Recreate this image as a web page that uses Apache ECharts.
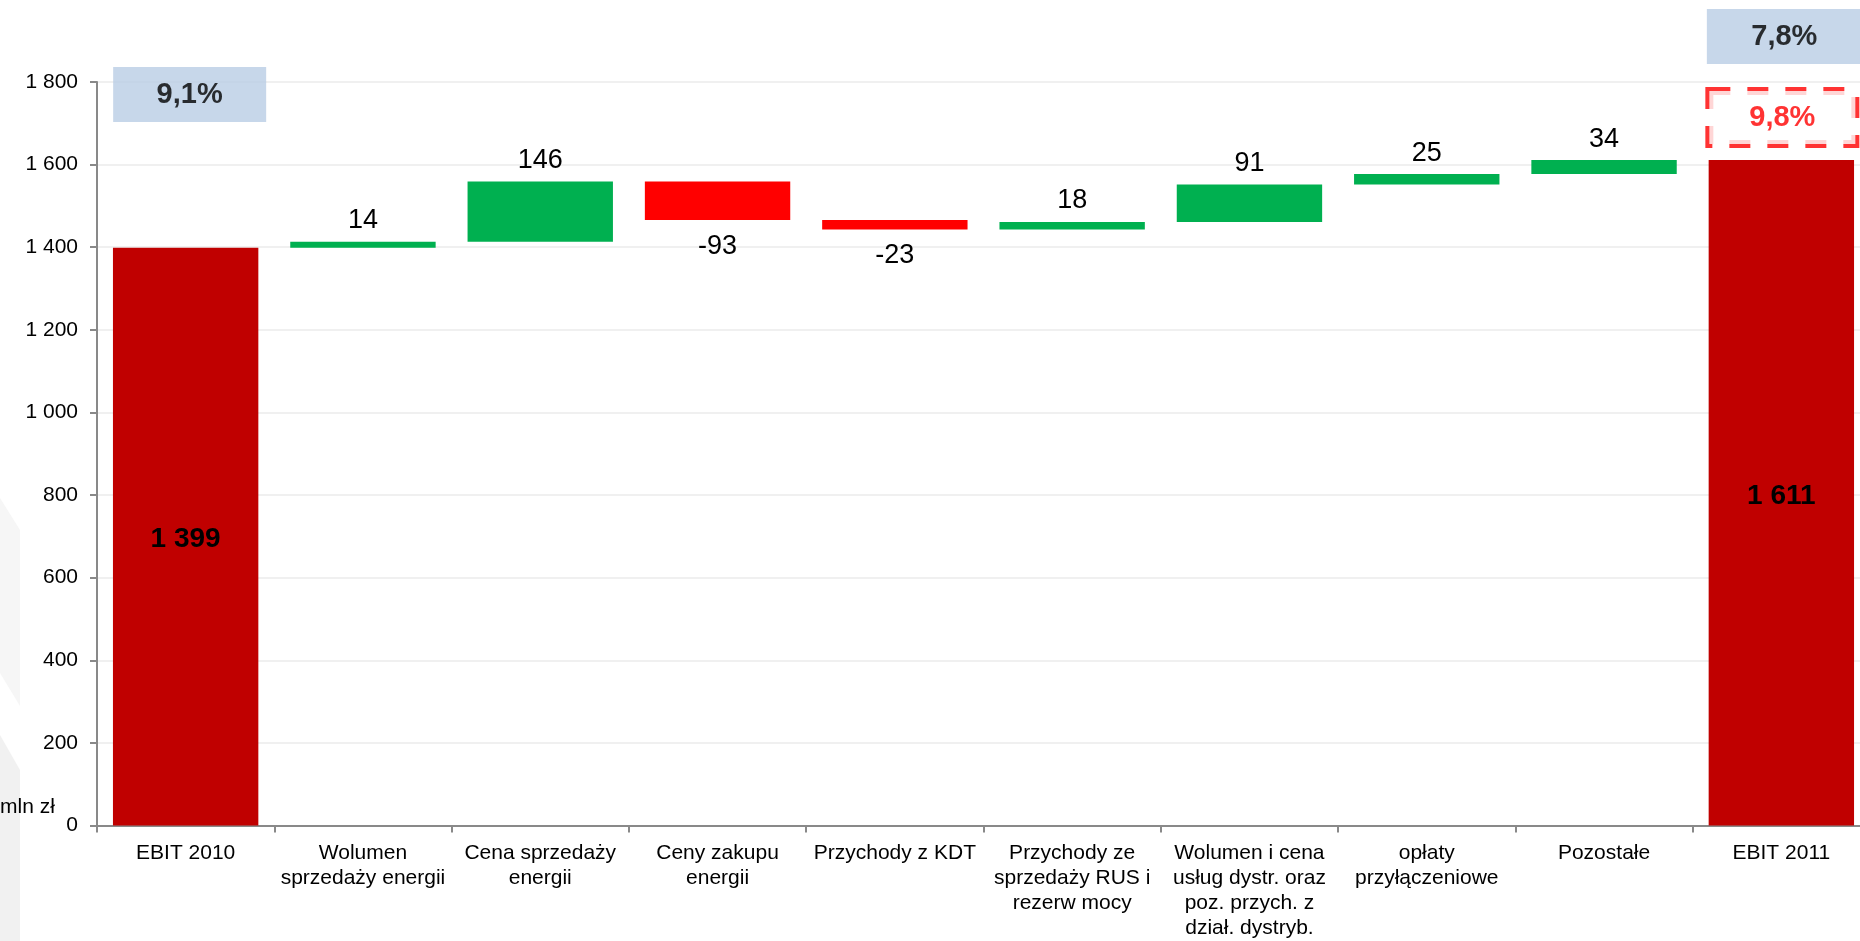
<!DOCTYPE html>
<html><head><meta charset="utf-8">
<script src="https://cdn.jsdelivr.net/npm/echarts@6/dist/echarts.min.js"></script>
<style>html,body{margin:0;padding:0;background:#fff;overflow:hidden;width:1860px;height:941px}
#wrap{width:1860px;height:941px;overflow:hidden;position:relative}
#c{width:1870px;height:941px;position:absolute;left:0;top:0}</style>
</head><body><div id="wrap"><div id="c"></div></div>
<script>
const categories = [
  'EBIT 2010',
  'Wolumen\nsprzedaży energii',
  'Cena sprzedaży\nenergii',
  'Ceny zakupu\nenergii',
  'Przychody z KDT',
  'Przychody ze\nsprzedaży RUS i\nrezerw mocy',
  'Wolumen i cena\nusług dystr. oraz\npoz. przych. z\ndział. dystryb.',
  'opłaty\nprzyłączeniowe',
  'Pozostałe',
  'EBIT 2011'
];
const startValue = 1399;
const changes = [14, 146, -93, -23, 18, 91, 25, 34];
const endValue = 1611;
const marginStart = '9,1%';
const marginEnd = '7,8%';
const marginTarget = '9,8%';
const yMin = 0, yMax = 1800, yStep = 200;
const unitLabel = 'mln zł';

const FONT = '"Liberation Sans", Arial, sans-serif';
const fmt = v => String(v).replace(/\B(?=(\d{3})+(?!\d))/g, ' ');

const base = [0], vals = [];
let cum = startValue;
const totalLabel = v => ({show: true, position: 'inside', offset: [0, 3], formatter: fmt(v), fontWeight: 'bold', fontSize: 28, color: '#000'});
vals.push({value: startValue, itemStyle: {color: '#C00000'}, label: totalLabel(startValue)});
changes.forEach(c => {
  if (c >= 0) { base.push(cum); cum += c; }
  else { cum += c; base.push(cum); }
  vals.push({value: Math.abs(c), itemStyle: {color: c >= 0 ? '#00B050' : '#FF0000'},
    label: {show: true, position: c >= 0 ? 'top' : 'bottom', distance: c >= 0 ? 7.5 : 13, formatter: String(c), fontSize: 27, color: '#000'}});
});
base.push(0);
vals.push({value: endValue, itemStyle: {color: '#C00000'}, label: totalLabel(endValue)});

const boxBase = {show: true, position: 'inside', fontFamily: FONT, fontSize: 29, fontWeight: 'bold',
  align: 'center', verticalAlign: 'middle'};

const chart = echarts.init(document.getElementById('c'));
chart.setOption({
  animation: false,
  backgroundColor: '#fff',
  textStyle: {fontFamily: FONT},
  grid: {left: 97, right: 0, top: 82, bottom: 107.5, containLabel: false},
  graphic: [
    {type: 'polygon', z: -10, silent: true, shape: {points: [[0,498],[20,530],[20,706],[0,673]]}, style: {fill: '#F6F6F6'}},
    {type: 'polygon', z: -10, silent: true, shape: {points: [[0,735],[20,770],[20,941],[0,941]]}, style: {fill: '#F1F1F1'}},
    {type: 'text', left: 0, top: 797, style: {text: unitLabel, fontSize: 21, fontFamily: FONT, fill: '#000'}}
  ],
  xAxis: {
    type: 'category', data: categories,
    axisLine: {lineStyle: {color: '#898989', width: 2}},
    axisTick: {show: true, length: 7, lineStyle: {color: '#898989', width: 2}},
    axisLabel: {interval: 0, margin: 15.5, fontSize: 21, lineHeight: 25, color: '#000', fontFamily: FONT}
  },
  yAxis: {
    type: 'value', min: yMin, max: yMax, interval: yStep,
    axisLine: {show: true, lineStyle: {color: '#898989', width: 2}},
    axisTick: {show: true, length: 7, lineStyle: {color: '#898989', width: 2}},
    axisLabel: {margin: 19, fontSize: 21, color: '#000', fontFamily: FONT, padding: [6, 0, 0, 0], formatter: v => fmt(v)},
    splitLine: {lineStyle: {color: '#F0F0F0', width: 2}}
  },
  series: [
    {type: 'bar', stack: 'w', data: base, barWidth: '82%', silent: true,
     itemStyle: {color: 'rgba(0,0,0,0)'}, emphasis: {disabled: true}},
    {type: 'bar', stack: 'w', data: vals, barWidth: '82%', silent: true,
     label: {fontFamily: FONT}, emphasis: {disabled: true}},
    {type: 'scatter', clip: false, silent: true, symbolSize: 1, itemStyle: {color: 'rgba(0,0,0,0)'}, z: 5,
     data: [
       {value: [0, yMax], label: Object.assign({}, boxBase, {formatter: marginStart, offset: [4, 12.5],
         padding: [4, 0, 0, 0], backgroundColor: '#B9CDE5', width: 153, height: 51, lineHeight: 51, color: '#000'})},
       {value: [9, yMax], label: Object.assign({}, boxBase, {formatter: marginEnd, offset: [3, -45.5],
         padding: [3, 0, 0, 0], backgroundColor: '#B9CDE5', width: 155, height: 52, lineHeight: 52, color: '#000'})},
       {value: [9, yMax], label: Object.assign({}, boxBase, {formatter: marginTarget, offset: [1, 35.5],
         padding: [6, 0, 0, 0], backgroundColor: '#fff', borderColor: '#FF0000', borderWidth: 4, borderType: [21, 17],
         width: 146, height: 47, lineHeight: 47, color: '#FF0000'})}
     ]}
  ]
});
</script></body></html>
